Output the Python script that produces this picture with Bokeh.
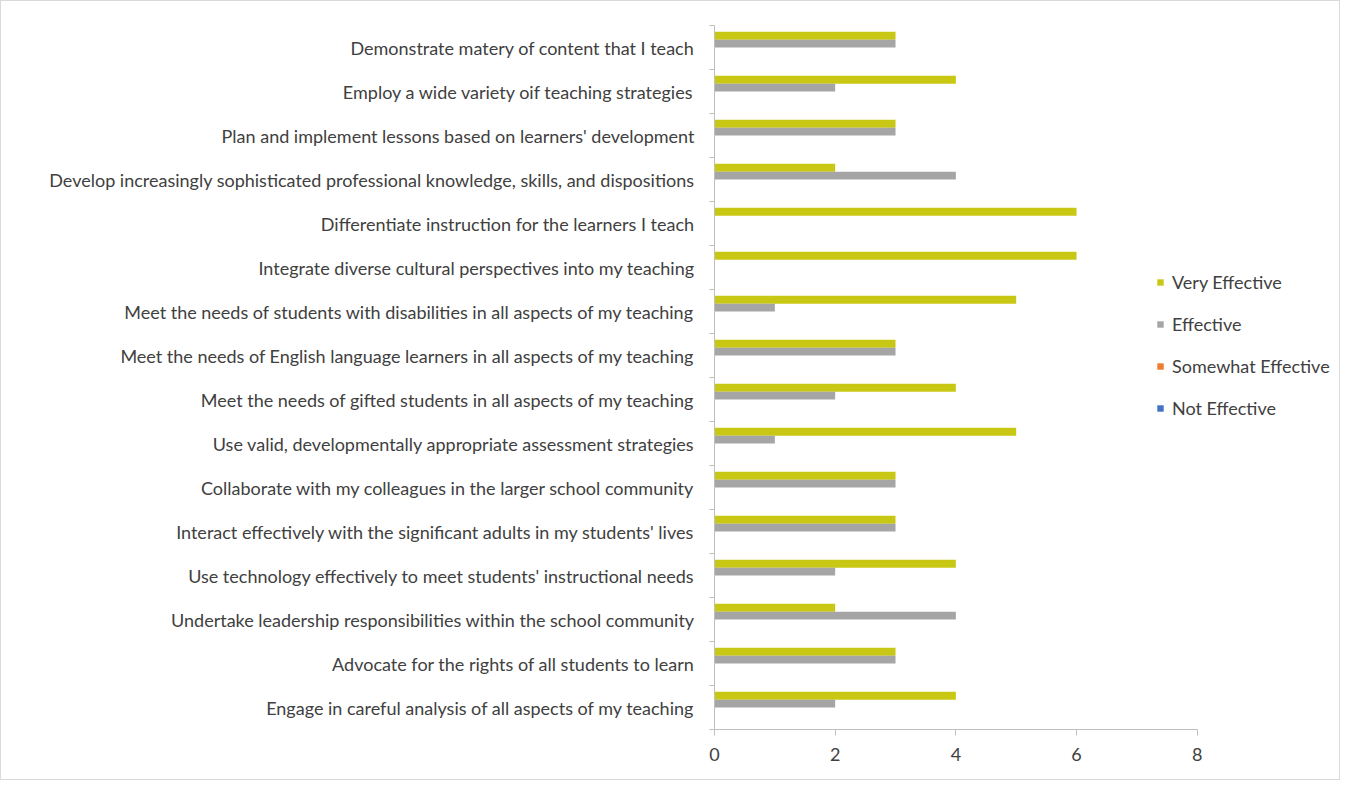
from bokeh.plotting import figure
from bokeh.models import (ColumnDataSource, Range1d, FixedTicker, Legend, LegendItem, LinearAxis)
from bokeh.transform import dodge
from bokeh.embed import file_html
from bokeh.resources import INLINE

categories = [
    "Demonstrate matery of content that I teach",
    "Employ a wide variety oif teaching strategies",
    "Plan and implement lessons based on learners' development",
    "Develop increasingly sophisticated professional knowledge, skills, and dispositions",
    "Differentiate instruction for the learners I teach",
    "Integrate diverse cultural perspectives into my teaching",
    "Meet the needs of students with disabilities in all aspects of my teaching",
    "Meet the needs of English language learners in all aspects of my teaching",
    "Meet the needs of gifted students in all aspects of my teaching",
    "Use valid, developmentally appropriate assessment strategies",
    "Collaborate with my colleagues in the larger school community",
    "Interact effectively with the significant adults in my students' lives",
    "Use technology effectively to meet students' instructional needs",
    "Undertake leadership responsibilities within the school community",
    "Advocate for the rights of all students to learn",
    "Engage in careful analysis of all aspects of my teaching",
]
very_effective = [3, 4, 3, 2, 6, 6, 5, 3, 4, 5, 3, 3, 4, 2, 3, 4]
effective = [3, 2, 3, 4, 0, 0, 1, 3, 2, 1, 3, 3, 2, 4, 3, 2]
somewhat_effective = [0] * 16
not_effective = [0] * 16
x_ticks = [0, 2, 4, 6, 8]

n = len(categories)
ypos = [n - i - 0.5 for i in range(n)]

src = ColumnDataSource(dict(y=ypos, ve=very_effective, e=effective,
                            se=somewhat_effective, ne=not_effective))

FONT = "Lato"
TXT = "#404040"
AX = "#BFBFBF"

p = figure(width=1340, height=780, output_backend="svg", toolbar_location=None,
           x_range=Range1d(0, 8 * 617 / 482.7), y_range=Range1d(0, n),
           min_border_left=713, min_border_right=10, min_border_top=24,
           min_border_bottom=52, x_axis_location=None, y_axis_location=None)
p.outline_line_color = None
p.grid.visible = False
p.background_fill_color = "white"
p.border_fill_color = "white"
p.styles = {"border": "1px solid #D9D9D9", "box-sizing": "border-box"}

bh = 0.178
series = [("ve", "Very Effective", "#C8C814", 0.267),
          ("e", "Effective", "#A5A5A5", 0.089),
          ("se", "Somewhat Effective", "#ED7D31", -0.089),
          ("ne", "Not Effective", "#4472C4", -0.267)]
renderers = []
for col, name, color, off in series:
    r = p.hbar(y=dodge("y", off, range=p.y_range), right=col, left=0, height=bh,
               source=src, fill_color=color, line_color=None)
    renderers.append((name, r))

xaxis = LinearAxis(ticker=FixedTicker(ticks=x_ticks), bounds=(0, 8))
xaxis.axis_line_color = AX
xaxis.major_tick_line_color = AX
xaxis.major_tick_out = 6
xaxis.major_tick_in = 0
xaxis.minor_tick_line_color = None
xaxis.major_label_text_font = FONT
xaxis.major_label_text_font_size = "18px"
xaxis.major_label_text_color = TXT
xaxis.major_label_standoff = 12
p.add_layout(xaxis, "below")

yaxis = LinearAxis(ticker=FixedTicker(ticks=ypos, minor_ticks=list(range(n + 1))))
yaxis.major_label_overrides = {y: c for y, c in zip(ypos, categories)}
yaxis.axis_line_color = AX
yaxis.major_tick_line_color = None
yaxis.major_tick_out = 0
yaxis.major_tick_in = 0
yaxis.minor_tick_line_color = AX
yaxis.minor_tick_out = 5
yaxis.minor_tick_in = 0
yaxis.major_label_text_font = FONT
yaxis.major_label_text_font_size = "18px"
yaxis.major_label_text_color = TXT
yaxis.major_label_standoff = 15
p.add_layout(yaxis, "left")

legend = Legend(items=[LegendItem(label=name, renderers=[r]) for name, r in renderers],
                location=(442, 310), padding=0, margin=0,
                border_line_color=None, background_fill_alpha=0,
                glyph_width=8, glyph_height=8, label_standoff=8,
                label_height=20, spacing=20,
                label_text_font=FONT, label_text_font_size="18px",
                label_text_color=TXT)
p.add_layout(legend, "center")

open("out.html", "w").write(file_html(p, INLINE))
